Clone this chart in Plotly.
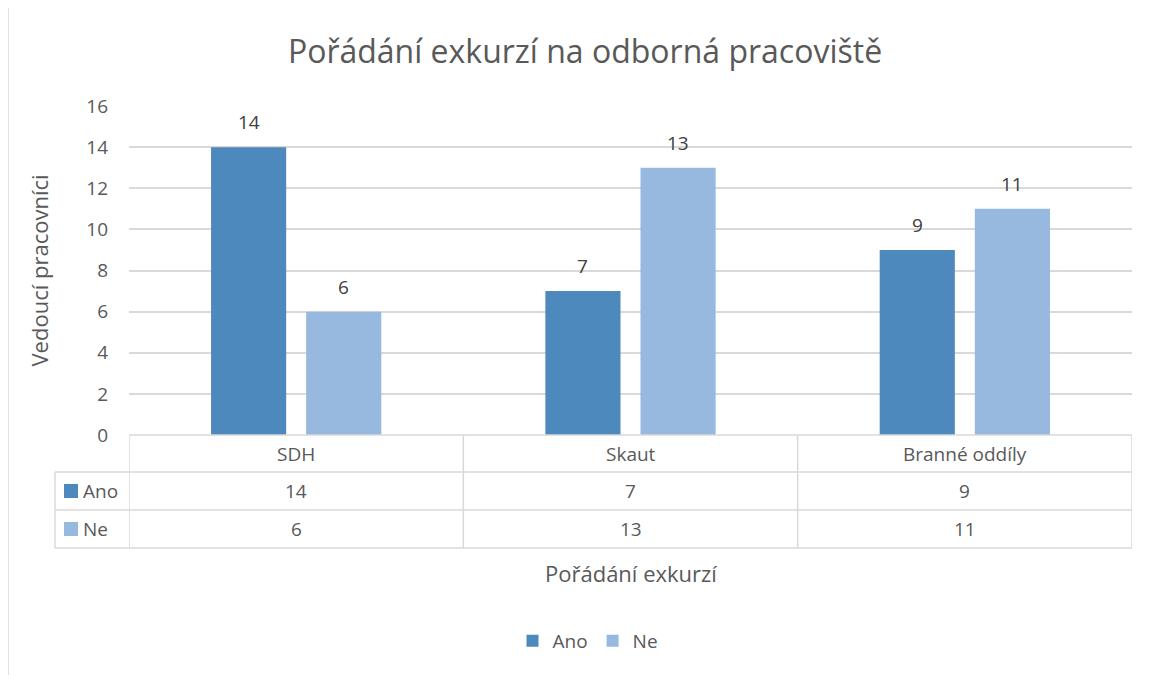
import plotly.graph_objects as go

categories = ["SDH", "Skaut", "Branné oddíly"]
series_names = ["Ano", "Ne"]
ano_values = [14, 7, 9]
ne_values = [6, 13, 11]
series_values = [ano_values, ne_values]
colors = ["#4e89bd", "#97b9df"]
y_ticks = [0, 2, 4, 6, 8, 10, 12, 14, 16]

W, H = 1159, 675
OFF = 8  # default page body margin
L, R, T, B = 129, 27, 106, 240
PW = W - L - R
PH = H - T - B
BARGAP = 0.431
GROUPGAP = 0.21


def px_x(p):
    return (p - L) / PW


def px_y(p):
    return (H - B - p) / PH


FONT = "Open Sans, Liberation Sans, sans-serif"
TXT = "#595959"
GRID = "#d9d9d9"
FS = 19

fig = go.Figure()
for name, vals, col in zip(series_names, series_values, colors):
    fig.add_trace(go.Bar(
        x=categories, y=vals, name=name, marker=dict(color=col, line=dict(width=0)),
    ))

shapes = []
annotations = []

# data labels above bars (offset follows the grouped-bar layout)
cat_px = PW / len(categories)
slot_px = (1 - BARGAP) / len(series_names) * cat_px
for si, vals in enumerate(series_values):
    xs = (si - (len(series_names) - 1) / 2) * slot_px
    for c, v in zip(categories, vals):
        annotations.append(dict(x=c, y=v, xref="x", yref="y", text=str(v), showarrow=False,
                                xshift=xs, yshift=25, xanchor="center", yanchor="middle",
                                font=dict(size=FS, color="#404040", family=FONT)))

# outer chart border
shapes.append(dict(type="rect", xref="paper", yref="paper",
                   x0=px_x(8), x1=px_x(1175), y0=px_y(700), y1=px_y(5),
                   line=dict(color=GRID, width=1.5), layer="below"))
# table lines
row_y = [435, 472, 510, 548]
shapes.append(dict(type="line", xref="x", yref="paper", x0=-0.5, x1=2.5,
                   y0=px_y(435), y1=px_y(435), line=dict(color=GRID, width=1.5)))
for yy in row_y[1:]:
    shapes.append(dict(type="line", xref="paper", yref="paper", x0=px_x(55), x1=1,
                       y0=px_y(yy), y1=px_y(yy), line=dict(color=GRID, width=1.5)))
for xb in [-0.5, 0.5, 1.5, 2.5]:
    shapes.append(dict(type="line", xref="x", yref="paper", x0=xb, x1=xb,
                       y0=px_y(435), y1=px_y(548), line=dict(color=GRID, width=1.5)))
shapes.append(dict(type="line", xref="paper", yref="paper", x0=px_x(55), x1=px_x(55),
                   y0=px_y(472), y1=px_y(548), line=dict(color=GRID, width=1.5)))

# category row
for c in categories:
    annotations.append(dict(x=c, y=px_y(453.5), xref="x", yref="paper", text=c,
                            xanchor="center", yanchor="middle", showarrow=False,
                            font=dict(size=FS, color=TXT, family=FONT)))
# series rows
for i, (name, vals, col) in enumerate(zip(series_names, series_values, colors)):
    yc = (row_y[i + 1] + row_y[i + 2]) / 2
    shapes.append(dict(type="rect", xref="paper", yref="paper",
                       x0=px_x(64), x1=px_x(78), y0=px_y(yc + 7), y1=px_y(yc - 7),
                       fillcolor=col, line=dict(width=0)))
    annotations.append(dict(x=px_x(81), y=px_y(yc), xref="paper", yref="paper", text=name,
                            xanchor="left", yanchor="middle", showarrow=False,
                            font=dict(size=FS, color=TXT, family=FONT)))
    for c, v in zip(categories, vals):
        annotations.append(dict(x=c, y=px_y(yc), xref="x", yref="paper", text=str(v),
                                xanchor="center", yanchor="middle", showarrow=False,
                                font=dict(size=FS, color=TXT, family=FONT)))

# axis titles
annotations.append(dict(x=0.5, y=px_y(573), xref="paper", yref="paper",
                        text="Pořádání exkurzí", showarrow=False,
                        xanchor="center", yanchor="middle",
                        font=dict(size=22, color=TXT, family=FONT)))
annotations.append(dict(x=px_x(38), y=0.5, xref="paper", yref="paper",
                        text="Vedoucí pracovníci", showarrow=False, textangle=-90,
                        xanchor="center", yanchor="middle",
                        font=dict(size=22, color=TXT, family=FONT)))

fig.update_layout(
    width=W - OFF, height=H - OFF,
    margin=dict(l=L - OFF, r=R, t=T - OFF, b=B, autoexpand=False),
    paper_bgcolor="white", plot_bgcolor="white",
    title=dict(text="Pořádání exkurzí na odborná pracoviště", x=(585 - OFF) / (W - OFF),
               xanchor="center", y=1 - (52 - OFF) / (H - OFF), yanchor="middle",
               font=dict(size=32, color=TXT, family=FONT)),
    barmode="group", bargap=BARGAP, bargroupgap=GROUPGAP,
    showlegend=True,
    legend=dict(orientation="h", x=px_x(588), xanchor="center", y=px_y(641), yanchor="middle",
                font=dict(size=FS, color=TXT, family=FONT), itemwidth=30,
                traceorder="normal"),
    xaxis=dict(showticklabels=False, showgrid=False, zeroline=False, showline=False,
               range=[-0.5, 2.5]),
    yaxis=dict(range=[0, 16], tickvals=y_ticks, showgrid=True, gridcolor=GRID, gridwidth=1.5,
               zeroline=False, showline=False, ticklabelstandoff=20,
               tickfont=dict(size=FS, color=TXT, family=FONT)),
    shapes=shapes, annotations=annotations,
)

fig.write_html("out.html")
